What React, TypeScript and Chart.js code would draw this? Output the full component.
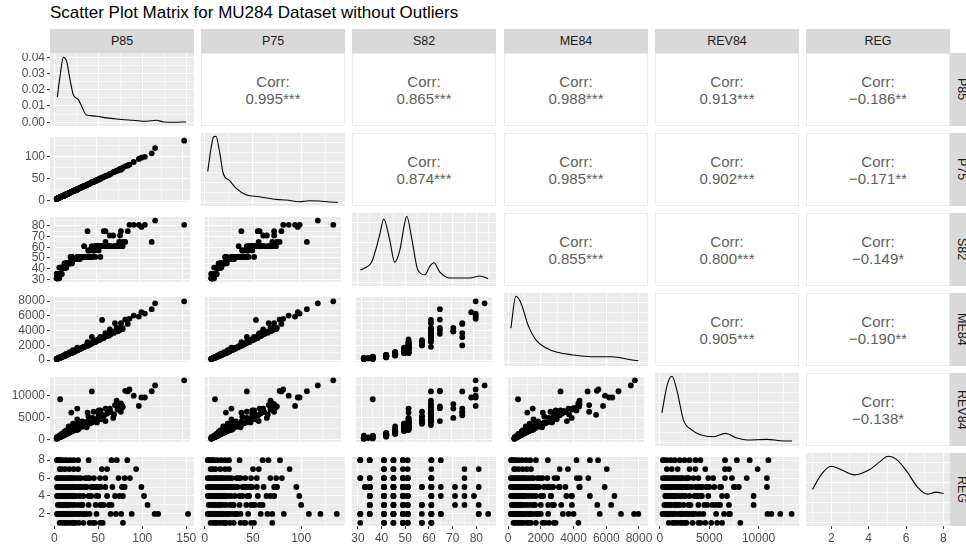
import React, { useEffect, useRef } from "react";
import { Chart, registerables } from "chart.js";

Chart.register(...registerables);

// ---------------- data (rows grouped by region REG 1..8, last line mixed) ----------------
const VARS = ["P85", "P75", "S82", "ME84", "REV84", "REG"];

const P85 = [
  6, 9, 12, 14, 17, 20, 22, 24, 28, 33, 40, 46, 52, 78,
  152, 118, 114, 88, 64, 40, 35, 30, 27, 24, 21, 18, 16, 14, 12, 11, 9, 8, 7, 5, 4, 3, 13, 20, 26, 33,
  106, 65, 56, 52, 39, 31, 27, 23, 20, 17, 14, 12, 10, 8, 6, 4, 15,
  102, 78, 69, 60, 48, 39, 33, 29, 25, 22, 19, 17, 15, 13, 11, 9, 7, 5, 3, 12, 21,
  99, 77, 50, 46, 37, 34, 31, 29, 27, 25, 23, 21, 19, 18, 16, 15, 14, 13, 12, 11, 10, 9, 8, 7, 6, 4, 3, 44, 20,
  86, 73, 52, 45, 40, 35, 30, 27, 24, 21, 18, 16, 14, 12, 10, 8, 6, 4, 3, 19,
  93, 60, 54, 27, 22, 17, 12, 8, 6,
  83, 71, 65, 39, 27, 22, 18, 14, 11, 8, 7, 5, 3, 4,
  48, 50, 53, 55, 58, 62, 66, 70, 74, 80, 32, 36, 38, 42, 44, 48, 54, 42, 47, 76, 80, 58,
];
const P75 = [
  6, 9, 11, 13, 16, 19, 21, 22, 26, 30, 37, 42, 48, 70,
  137, 120, 108, 82, 58, 37, 33, 28, 25, 23, 20, 17, 15, 14, 12, 10, 9, 8, 7, 5, 4, 3, 13, 19, 24, 31,
  100, 60, 52, 48, 36, 29, 26, 22, 19, 16, 14, 11, 10, 8, 6, 4, 15,
  98, 72, 64, 55, 44, 36, 31, 27, 24, 21, 18, 16, 14, 12, 11, 9, 7, 5, 3, 12, 20,
  95, 72, 47, 43, 34, 32, 29, 27, 25, 23, 22, 20, 18, 17, 15, 14, 13, 12, 11, 10, 10, 9, 8, 7, 6, 4, 3, 42, 19,
  80, 68, 48, 42, 37, 33, 28, 25, 23, 20, 17, 15, 13, 12, 10, 8, 6, 4, 3, 18,
  88, 56, 50, 25, 21, 16, 11, 8, 6,
  78, 66, 60, 36, 25, 21, 17, 13, 10, 8, 7, 5, 3, 4,
  45, 46, 49, 51, 54, 57, 61, 65, 68, 74, 30, 33, 35, 39, 41, 44, 50, 39, 43, 70, 75, 54,
];
const S82 = [
  31, 41, 41, 45, 45, 49, 49, 49, 51, 51, 57, 57, 61, 61,
  81, 85, 65, 81, 61, 57, 61, 51, 51, 49, 49, 45, 45, 45, 41, 41, 41, 35, 35, 31, 31, 31, 45, 51, 49, 51,
  81, 71, 61, 57, 75, 51, 49, 49, 45, 45, 41, 41, 41, 35, 35, 35, 45,
  79, 75, 71, 65, 61, 51, 51, 49, 49, 49, 45, 45, 45, 41, 41, 41, 35, 35, 35, 41, 51,
  81, 71, 61, 57, 51, 51, 51, 49, 49, 49, 49, 49, 45, 45, 45, 45, 41, 41, 41, 41, 41, 35, 35, 35, 33, 33, 35, 61, 51,
  75, 61, 61, 51, 51, 51, 49, 49, 49, 45, 45, 45, 41, 41, 41, 35, 35, 31, 31, 51,
  81, 75, 61, 51, 49, 45, 45, 41, 41,
  65, 61, 61, 51, 49, 49, 45, 45, 41, 41, 35, 35, 31, 31,
  61, 61, 61, 61, 61, 61, 61, 61, 61, 61, 51, 51, 51, 51, 51, 51, 51, 57, 57, 65, 65, 75,
];
const ME84 = [
  330, 420, 560, 700, 830, 950, 1250, 1150, 1400, 1700, 2100, 2500, 2800, 4300,
  7960, 7700, 6900, 5600, 3350, 2000, 1800, 1500, 1350, 1200, 1050, 900, 780, 690, 600, 520, 450, 380, 330, 250, 200, 160, 640, 980, 1300, 1700,
  6300, 3900, 5450, 2700, 2000, 1550, 1350, 1150, 1000, 850, 700, 580, 480, 400, 300, 220, 760,
  6500, 5000, 3870, 3560, 2630, 2000, 1700, 1500, 1300, 1100, 950, 850, 750, 650, 550, 450, 350, 280, 180, 600, 1050,
  5900, 4380, 2700, 2400, 1900, 1750, 1600, 1480, 1380, 1280, 1180, 1080, 980, 920, 820, 760, 700, 650, 600, 550, 500, 460, 400, 360, 300, 230, 170, 3150, 1000,
  4900, 4380, 2840, 2400, 2100, 1800, 1550, 1400, 1250, 1100, 950, 830, 720, 620, 520, 420, 320, 230, 170, 1000,
  6030, 3660, 3150, 1400, 1150, 900, 640, 420, 370,
  5500, 5000, 4180, 2430, 1700, 1350, 1100, 850, 650, 480, 400, 300, 180, 220,
  2450, 2600, 2750, 2900, 3000, 3250, 3500, 3700, 3900, 4200, 1650, 1850, 1950, 2150, 2250, 2500, 2800, 2200, 2450, 4000, 4350, 3100,
];
const REV84 = [
  900, 1300, 1500, 2100, 1800, 2500, 2700, 3300, 2300, 4100, 5200, 6300, 5800, 8150,
  13350, 12200, 10900, 11300, 6500, 3600, 3300, 4000, 7000, 2800, 2400, 2100, 1600, 1400, 1200, 1000, 900, 800, 700, 500, 350, 250, 1900, 2600, 2200, 3000,
  9500, 7000, 5600, 5300, 6100, 3900, 2900, 2400, 2000, 1800, 1500, 1200, 1000, 800, 600, 450, 1600,
  9500, 6300, 4900, 4200, 4250, 3500, 3000, 2600, 2300, 2000, 1700, 1500, 1350, 1200, 1000, 850, 700, 540, 600, 1400, 2400,
  7600, 8000, 4700, 4300, 3600, 3200, 2900, 2700, 2500, 2300, 2100, 1950, 1800, 1650, 1500, 1400, 1300, 1200, 1100, 1000, 900, 850, 750, 650, 550, 400, 300, 10850, 6100,
  10850, 8800, 6600, 4900, 3900, 3400, 2900, 2600, 2300, 2000, 1750, 1550, 1350, 1150, 950, 800, 600, 450, 300, 2200,
  9900, 7000, 6600, 4600, 3600, 3000, 1800, 1200, 700,
  11000, 7800, 6600, 4100, 3600, 3000, 2500, 2000, 1500, 1100, 9100, 700, 300, 400,
  4400, 3900, 5000, 4600, 5400, 5900, 6200, 5700, 6800, 7300, 3100, 3300, 2800, 3700, 3900, 4100, 4800, 3800, 4500, 7100, 7500, 5500,
];
const REG = [
  1, 1, 1, 1, 1, 1, 1, 1, 1, 1, 1, 1, 1, 1,
  2, 2, 2, 2, 2, 2, 2, 2, 2, 2, 2, 2, 2, 2, 2, 2, 2, 2, 2, 2, 2, 2, 2, 2, 2, 2,
  3, 3, 3, 3, 3, 3, 3, 3, 3, 3, 3, 3, 3, 3, 3, 3, 3,
  4, 4, 4, 4, 4, 4, 4, 4, 4, 4, 4, 4, 4, 4, 4, 4, 4, 4, 4, 4, 4,
  5, 5, 5, 5, 5, 5, 5, 5, 5, 5, 5, 5, 5, 5, 5, 5, 5, 5, 5, 5, 5, 5, 5, 5, 5, 5, 5, 5, 5,
  6, 6, 6, 6, 6, 6, 6, 6, 6, 6, 6, 6, 6, 6, 6, 6, 6, 6, 6, 6,
  7, 7, 7, 7, 7, 7, 7, 7, 7,
  8, 8, 8, 8, 8, 8, 8, 8, 8, 8, 8, 8, 8, 8,
  2, 4, 5, 1, 6, 3, 5, 2, 4, 6, 3, 2, 6, 4, 1, 5, 3, 5, 3, 2, 5, 5,
];

// density curves on the diagonal
const DENS_P85_X = [3.4, 6.5, 10.3, 14.1, 17.9, 21.6, 27.3, 31.1, 36, 40.6, 48.2, 59.5, 70.9, 89.8, 105, 116, 124, 135, 150];
const DENS_P85_Y = [0.0155, 0.0282, 0.04, 0.0373, 0.0261, 0.0169, 0.0139, 0.0098, 0.0047, 0.0041, 0.0037, 0.0027, 0.002, 0.0012, 0.0006, 0.0012, 0.0002, 0.0, 0.0002];
const DENS_P75_X = [3, 6.2, 9.0, 11.5, 14.9, 19.1, 25.3, 32.3, 42.7, 56.6, 74, 84.4, 98, 108.6, 119, 129.5, 138];
const DENS_P75_Y = [0.47, 0.8, 0.99, 1.0, 0.8, 0.44, 0.34, 0.22, 0.12, 0.09, 0.05, 0.04, 0.015, 0.03, 0.025, 0.01, 0.005];
const DENS_S82_X = [31, 32.8, 35.8, 39.2, 40.9, 43.4, 45.5, 47.7, 49.4, 50.6, 52.8, 55.3, 58.3, 60.4, 62.1, 64.6, 68.9, 77.3, 81.5, 85];
const DENS_S82_Y = [0.19, 0.22, 0.31, 0.72, 0.96, 0.65, 0.31, 0.49, 0.83, 1.0, 0.65, 0.19, 0.12, 0.25, 0.3, 0.16, 0.07, 0.07, 0.1, 0.06];
const DENS_ME84_X = [170, 475, 785, 1215, 1710, 2330, 2945, 3870, 5105, 6340, 7580, 7960];
const DENS_ME84_Y = [0.52, 1.0, 0.9, 0.57, 0.34, 0.22, 0.16, 0.12, 0.09, 0.09, 0.04, 0.03];
const DENS_REV84_X = [200, 740, 1220, 1750, 2390, 3245, 4090, 5440, 6620, 7810, 8820, 10850, 12200, 13390];
const DENS_REV84_Y = [0.45, 0.87, 1.0, 0.77, 0.34, 0.19, 0.12, 0.09, 0.14, 0.07, 0.04, 0.05, 0.03, 0.025];
const DENS_REG_X = [1.0, 1.45, 2.0, 2.45, 3.25, 4.05, 4.6, 5.05, 5.5, 6.05, 6.6, 7.15, 7.6, 8.0];
const DENS_REG_Y = [0.5, 0.72, 0.85, 0.81, 0.72, 0.8, 0.92, 1.0, 0.95, 0.77, 0.54, 0.43, 0.46, 0.44];

// correlation text of the upper panels
const CORR_ROW_P85 = ["0.995***", "0.865***", "0.988***", "0.913***", "\u22120.186**"];
const CORR_ROW_P75 = ["0.874***", "0.985***", "0.902***", "\u22120.171**"];
const CORR_ROW_S82 = ["0.855***", "0.800***", "\u22120.149*"];
const CORR_ROW_ME84 = ["0.905***", "\u22120.190**"];
const CORR_ROW_REV84 = ["\u22120.138*"];

// axis ranges and tick labels
const RANGE_P85 = [-4.9, 158.8];
const RANGE_P75 = [-4, 145.5];
const RANGE_S82 = [27.5, 88.3];
const RANGE_ME84 = [-250, 8550];
const RANGE_REV84 = [-500, 14100];
const RANGE_REG = [0.65, 8.35];
const TICKS_P85 = [0, 50, 100, 150];
const TICKS_P75 = [0, 50, 100];
const TICKS_S82 = [30, 40, 50, 60, 70, 80];
const TICKS_ME84 = [0, 2000, 4000, 6000, 8000];
const TICKS_REV84 = [0, 5000, 10000];
const TICKS_REG = [2, 4, 6, 8];
const DENS_RANGE_P85 = [-0.0023, 0.0426];
const DENS_TICKS_P85 = [0, 0.01, 0.02, 0.03, 0.04];
const REL_DENS_RANGE = [-0.05, 1.05];
const REL_DENS_TICKS = [0, 0.3, 0.6, 0.9];

const COLUMNS = [P85, P75, S82, ME84, REV84, REG];
const RANGES = [RANGE_P85, RANGE_P75, RANGE_S82, RANGE_ME84, RANGE_REV84, RANGE_REG];
const TICKS = [TICKS_P85, TICKS_P75, TICKS_S82, TICKS_ME84, TICKS_REV84, TICKS_REG];
const DENS_X = [DENS_P85_X, DENS_P75_X, DENS_S82_X, DENS_ME84_X, DENS_REV84_X, DENS_REG_X];
const DENS_Y = [DENS_P85_Y, DENS_P75_Y, DENS_S82_Y, DENS_ME84_Y, DENS_REV84_Y, DENS_REG_Y];
const CORR = [CORR_ROW_P85, CORR_ROW_P75, CORR_ROW_S82, CORR_ROW_ME84, CORR_ROW_REV84];

// ---------------- layout / style ----------------
const FONT = '"Liberation Sans", Arial, Helvetica, sans-serif';
const COL_LEFT = [50, 201, 352, 504, 655, 806];
const ROW_TOP = [53, 133, 213, 293, 373, 453];
const PW = 144;
const PH = 73;
const Y_AXIS_W = 50;
const X_AXIS_H = 19;
const SIDE_PAD = 14;
const TICK_FONT = 12;

function minorsOf(majors: number[], range: number[]) {
  const step = majors.length > 1 ? majors[1] - majors[0] : 1;
  const out: number[] = [];
  const cands = majors.map((m) => m - step / 2).concat([majors[majors.length - 1] + step / 2]);
  for (const v of cands) if (v > range[0] && v < range[1]) out.push(v);
  return out;
}

function axis(range: number[], majors: number[], fmt: (v: number) => string, show: boolean, isX: boolean) {
  const minors = minorsOf(majors, range);
  const all = majors.concat(minors).sort((a, b) => a - b);
  const isMajor = (v: any) => majors.some((m) => Math.abs(m - v) < 1e-9);
  return {
    type: "linear",
    min: range[0],
    max: range[1],
    afterBuildTicks: (s: any) => {
      s.ticks = all.map((v) => ({ value: v }));
    },
    afterFit: (s: any) => {
      if (isX) s.height = show ? X_AXIS_H : 0;
      else s.width = show ? Y_AXIS_W : 0;
      s.paddingTop = 0;
      s.paddingBottom = 0;
      s.paddingLeft = 0;
      s.paddingRight = 0;
    },
    ticks: {
      display: show,
      autoSkip: false,
      maxRotation: 0,
      minRotation: 0,
      padding: 2,
      color: "#4D4D4D",
      font: { family: FONT, size: TICK_FONT },
      callback: (v: any) => (isMajor(v) ? fmt(v) : ""),
    },
    grid: {
      color: "#FFFFFF",
      lineWidth: (ctx: any) => (ctx.tick && isMajor(ctx.tick.value) ? 1.1 : 0.55),
      drawTicks: show,
      tickLength: 3,
      tickWidth: 1,
      tickColor: (ctx: any) => (ctx.tick && isMajor(ctx.tick.value) ? "#333333" : "rgba(0,0,0,0)"),
    },
    border: { display: false },
  };
}

const bgPlugin = {
  id: "panelBg",
  beforeDraw(chart: any) {
    const { ctx, chartArea: a } = chart;
    ctx.save();
    ctx.fillStyle = "#EBEBEB";
    ctx.fillRect(a.left, a.top, a.right - a.left, a.bottom - a.top);
    ctx.restore();
  },
};

const plainFmt = (v: number) => String(v);

function Panel({ r, c }: { r: number; c: number }) {
  const ref = useRef<HTMLCanvasElement>(null);
  const hasY = c === 0;
  const hasX = r === 5;
  const offL = hasY ? Y_AXIS_W : hasX ? SIDE_PAD : 0;
  const padR = hasX ? SIDE_PAD : 0;
  const cw = PW + offL + padR;
  const ch = PH + (hasX ? X_AXIS_H : 0);

  useEffect(() => {
    const diag = r === c;
    let dataset: any;
    let yAxis: any;
    if (diag) {
      const xs = DENS_X[c];
      const ys = DENS_Y[c];
      dataset = {
        data: xs.map((x, i) => ({ x, y: ys[i] })),
        showLine: true,
        pointRadius: 0,
        borderColor: "#000000",
        borderWidth: 1.1,
        cubicInterpolationMode: "monotone",
        fill: false,
      };
      if (r === 0) yAxis = axis(DENS_RANGE_P85, DENS_TICKS_P85, (v) => v.toFixed(2), hasY, false);
      else yAxis = axis(REL_DENS_RANGE, REL_DENS_TICKS, plainFmt, false, false);
    } else {
      const xs = COLUMNS[c];
      const ys = COLUMNS[r];
      dataset = {
        data: xs.map((x, i) => ({ x, y: ys[i] })),
        showLine: false,
        pointRadius: 2.9,
        pointBackgroundColor: "#000000",
        pointBorderWidth: 0,
      };
      yAxis = axis(RANGES[r], TICKS[r], plainFmt, hasY, false);
    }
    const xAxis = axis(RANGES[c], TICKS[c], plainFmt, hasX, true);
    const chart = new Chart(ref.current as HTMLCanvasElement, {
      type: "scatter",
      data: { datasets: [dataset] },
      options: {
        responsive: false,
        animation: false,
        devicePixelRatio: 1,
        events: [],
        layout: { padding: { left: hasY ? 0 : offL, right: padR, top: 0, bottom: 0 } },
        plugins: { legend: { display: false }, tooltip: { enabled: false } },
        scales: { x: xAxis, y: yAxis },
      } as any,
      plugins: [bgPlugin],
    } as any);
    return () => chart.destroy();
  }, []);

  return (
    <canvas
      ref={ref}
      width={cw}
      height={ch}
      style={{ position: "absolute", left: COL_LEFT[c] - offL, top: ROW_TOP[r], width: cw, height: ch }}
    />
  );
}

function CorrPanel({ r, c }: { r: number; c: number }) {
  const txt = CORR[r][c - r - 1];
  return (
    <div
      style={{
        position: "absolute",
        left: COL_LEFT[c],
        top: ROW_TOP[r],
        width: PW,
        height: PH,
        boxSizing: "border-box",
        background: "#FFFFFF",
        border: "1px solid #EBEBEB",
        display: "flex",
        flexDirection: "column",
        alignItems: "center",
        justifyContent: "center",
        fontFamily: FONT,
        fontSize: 15,
        lineHeight: "17px",
        color: "#5E5E5E",
      }}
    >
      <div>Corr:</div>
      <div>{txt}</div>
    </div>
  );
}

export default function App() {
  const panels: any[] = [];
  for (let r = 0; r < 6; r++) {
    for (let c = 0; c < 6; c++) {
      if (c > r) panels.push(<CorrPanel key={`u${r}${c}`} r={r} c={c} />);
      else panels.push(<Panel key={`p${r}${c}`} r={r} c={c} />);
    }
  }
  return (
    <div
      style={{
        position: "fixed",
        left: 0,
        top: 0,
        width: 966,
        height: 545,
        overflow: "hidden",
        background: "#FFFFFF",
        fontFamily: FONT,
      }}
    >
      <div
        style={{
          position: "absolute",
          left: 50,
          top: 4,
          fontSize: 17,
          lineHeight: "17px",
          color: "#000000",
          whiteSpace: "nowrap",
        }}
      >
        Scatter Plot Matrix for MU284 Dataset without Outliers
      </div>
      {VARS.map((v, i) => (
        <div
          key={`st${i}`}
          style={{
            position: "absolute",
            left: COL_LEFT[i],
            top: 29,
            width: PW,
            height: 24,
            background: "#D9D9D9",
            color: "#1A1A1A",
            fontSize: 12.5,
            lineHeight: "24px",
            textAlign: "center",
          }}
        >
          {v}
        </div>
      ))}
      {VARS.map((v, i) => (
        <div
          key={`sr${i}`}
          style={{
            position: "absolute",
            left: 950,
            top: ROW_TOP[i],
            width: 24,
            height: PH,
            background: "#D9D9D9",
            color: "#1A1A1A",
            fontSize: 12.5,
            display: "flex",
            alignItems: "center",
            justifyContent: "center",
          }}
        >
          <span style={{ writingMode: "vertical-rl", lineHeight: "24px" }}>{v}</span>
        </div>
      ))}
      {panels}
    </div>
  );
}
